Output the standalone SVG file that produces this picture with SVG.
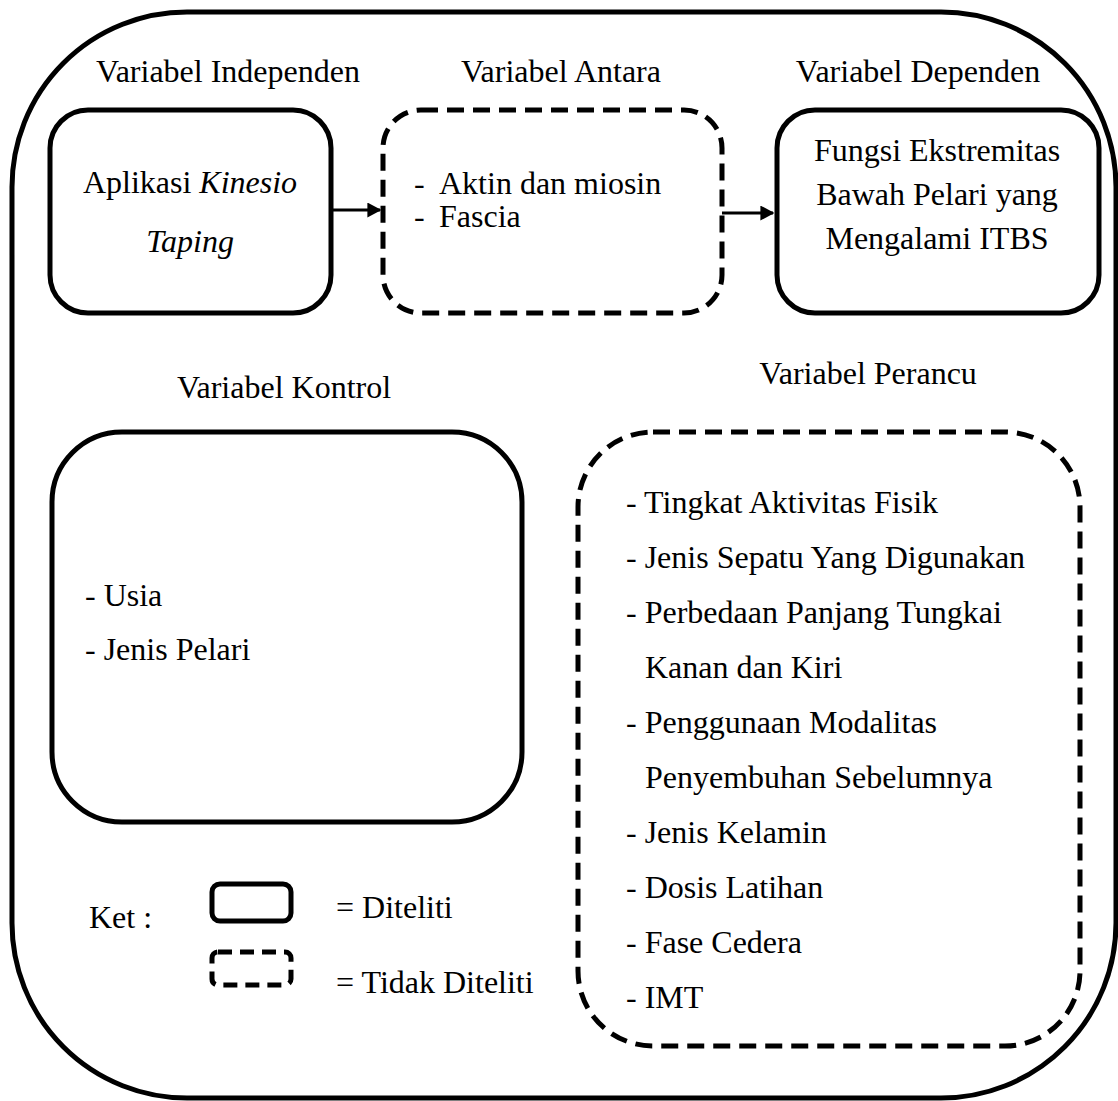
<svg xmlns="http://www.w3.org/2000/svg" width="1118" height="1101" viewBox="0 0 1118 1101">
<defs>
<style>
text{font-family:"Liberation Serif",Tinos,"Noto Serif","DejaVu Serif",serif;font-size:32px;fill:#000}
.solid{fill:none;stroke:#000;stroke-width:5}
.dash{fill:none;stroke:#000;stroke-width:5;stroke-dasharray:17 9}
.conn{stroke:#000;stroke-width:3;fill:none}
.mid{text-anchor:middle}
</style>
<marker id="ah" viewBox="0 0 10 10" refX="9" refY="5" markerWidth="14" markerHeight="15" markerUnits="userSpaceOnUse" orient="auto" preserveAspectRatio="none">
<path d="M0,0 L10,5 L0,10 Z" fill="#000"/>
</marker>
</defs>
<g id="frame"><rect class="solid" x="12" y="12" width="1104" height="1086" rx="175" ry="175"/></g>
<g id="titles">
<text class="mid" x="228" y="82">Variabel Independen</text>
<text class="mid" x="561" y="82">Variabel Antara</text>
<text class="mid" x="918" y="82">Variabel Dependen</text>
<text class="mid" x="284" y="398">Variabel Kontrol</text>
<text class="mid" x="868" y="384">Variabel Perancu</text>
</g>
<g id="independen">
<rect class="solid" x="50" y="110" width="281" height="203" rx="38"/>
<text class="mid" x="190" y="193">Aplikasi <tspan font-style="italic">Kinesio</tspan></text>
<text class="mid" x="190" y="252" font-style="italic">Taping</text>
</g>
<g id="antara">
<rect class="dash" x="383" y="110" width="339" height="203" rx="38"/>
<text x="414" y="194">-</text><text x="439" y="194">Aktin dan miosin</text>
<text x="414" y="227">-</text><text x="439" y="227">Fascia</text>
</g>
<g id="dependen">
<rect class="solid" x="777" y="110" width="322" height="203" rx="38"/>
<text class="mid" x="937" y="161">Fungsi Ekstremitas</text>
<text class="mid" x="937" y="205">Bawah Pelari yang</text>
<text class="mid" x="937" y="249">Mengalami ITBS</text>
</g>
<g id="kontrol">
<rect class="solid" x="52" y="432" width="470" height="390" rx="70"/>
<text x="85" y="606">- Usia</text>
<text x="85" y="660">- Jenis Pelari</text>
</g>
<g id="perancu">
<rect class="dash" x="578" y="432" width="502" height="614" rx="75"/>
<text x="626" y="513">- Tingkat Aktivitas Fisik</text>
<text x="626" y="568">- Jenis Sepatu Yang Digunakan</text>
<text x="626" y="623">- Perbedaan Panjang Tungkai</text>
<text x="645" y="678">Kanan dan Kiri</text>
<text x="626" y="733">- Penggunaan Modalitas</text>
<text x="645" y="788">Penyembuhan Sebelumnya</text>
<text x="626" y="843">- Jenis Kelamin</text>
<text x="626" y="898">- Dosis Latihan</text>
<text x="626" y="953">- Fase Cedera</text>
<text x="626" y="1008">- IMT</text>
</g>
<g id="legend">
<text x="89" y="928">Ket :</text>
<rect class="solid" x="212" y="884" width="79" height="37" rx="8"/>
<text x="336" y="918">= Diteliti</text>
<rect class="dash" style="stroke-dasharray:14 8" x="212" y="952" width="79" height="33" rx="6"/>
<text x="336" y="993">= Tidak Diteliti</text>
</g>
<g id="connectors">
<line class="conn" x1="332" y1="210" x2="380" y2="210" marker-end="url(#ah)"/>
<line class="conn" x1="722" y1="213" x2="773" y2="213" marker-end="url(#ah)"/>
</g>
</svg>
